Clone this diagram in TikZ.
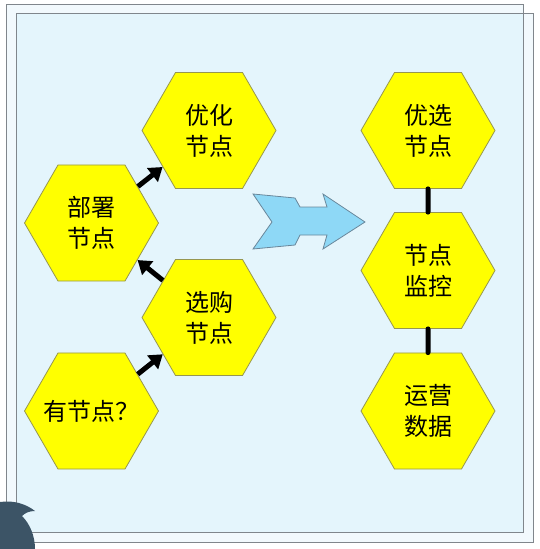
\documentclass[tikz,border=0pt]{standalone}
\usepackage{fontspec}
\newfontfamily\cjk{Noto Sans CJK SC}
\usetikzlibrary{arrows.meta,shapes.geometric}
\definecolor{bgpale}{RGB}{242, 249, 253}
\definecolor{bgcyan}{RGB}{228, 245, 252}
\definecolor{framegray}{RGB}{128, 134, 140}
\definecolor{hexyellow}{RGB}{255, 255, 0}
\definecolor{hexedge}{RGB}{150, 150, 80}
\definecolor{blockblue}{RGB}{142, 216, 246}
\definecolor{blockedge}{RGB}{105, 135, 155}
\definecolor{blobdark}{RGB}{60, 84, 102}

\begin{document}
\begin{tikzpicture}[x=1pt, y=-1pt,
    hexnode/.style={regular polygon, regular polygon sides=6, minimum size=134pt,
      inner sep=0pt, fill=hexyellow, draw=hexedge, line width=0.8pt,
      align=center, font=\cjk\fontsize{24}{31}\selectfont},
    fatarrow/.style={-{Triangle[length=13pt, width=17pt]}, line width=5pt},
    fatlink/.style={line width=5pt, line cap=round}]
    \useasboundingbox (0,0) rectangle (539,549);

    % Fondo: dos marcos desplazados
    \fill[bgpale] (6,4) rectangle (523,532);
    \fill[bgpale] (16,13) rectangle (533,542);
    \fill[bgcyan] (16,13) rectangle (523,532);
    \draw[framegray, line width=0.8pt] (6,4) rectangle (523,532);
    \draw[framegray, line width=0.8pt] (16,13) rectangle (533,542);

    % Mancha oscura en la esquina
    \fill[blobdark] (0,502) .. controls (14,500) and (26,504) .. (35,511)
      .. controls (29,511) and (25,513) .. (22,516)
      .. controls (30,524) and (35,536) .. (35,549) -- (0,549) -- cycle;

    % Hexagonos de la izquierda
    \node[hexnode] (youhua) at (209,130.5) {优化\\节点};
    \node[hexnode] (bushu) at (91.5,223) {部署\\节点};
    \node[hexnode] (xuangou) at (209,317.5) {选购\\节点};
    \node[hexnode] (youjd) at (91.5,411) {\makebox[0pt][c]{有节点？}};

    % Hexagonos de la derecha
    \node[hexnode] (youxuan) at (428,130.5) {优选\\节点};
    \node[hexnode] (jiankong) at (428,270.5) {节点\\监控};
    \node[hexnode] (yunying) at (428,411) {运营\\数据};

    % Flechas entre nodos
    \draw[fatarrow] (youjd) -- (xuangou);
    \draw[fatarrow] (xuangou) -- (bushu);
    \draw[fatarrow] (bushu) -- (youhua);

    % Enlaces verticales
    \draw[fatlink] (youxuan) -- (jiankong);
    \draw[fatlink] (jiankong) -- (yunying);

    % Flecha de bloque
    \draw[fill=blockblue, draw=blockedge, line width=0.8pt]
      (253,194) -- (295,198) -- (300,207) -- (327,207) -- (323,194)
      -- (365,222) -- (323,249) -- (327,235) -- (300,235) -- (295,245)
      -- (253,249) -- (272,222) -- cycle;
\end{tikzpicture}
\end{document}
